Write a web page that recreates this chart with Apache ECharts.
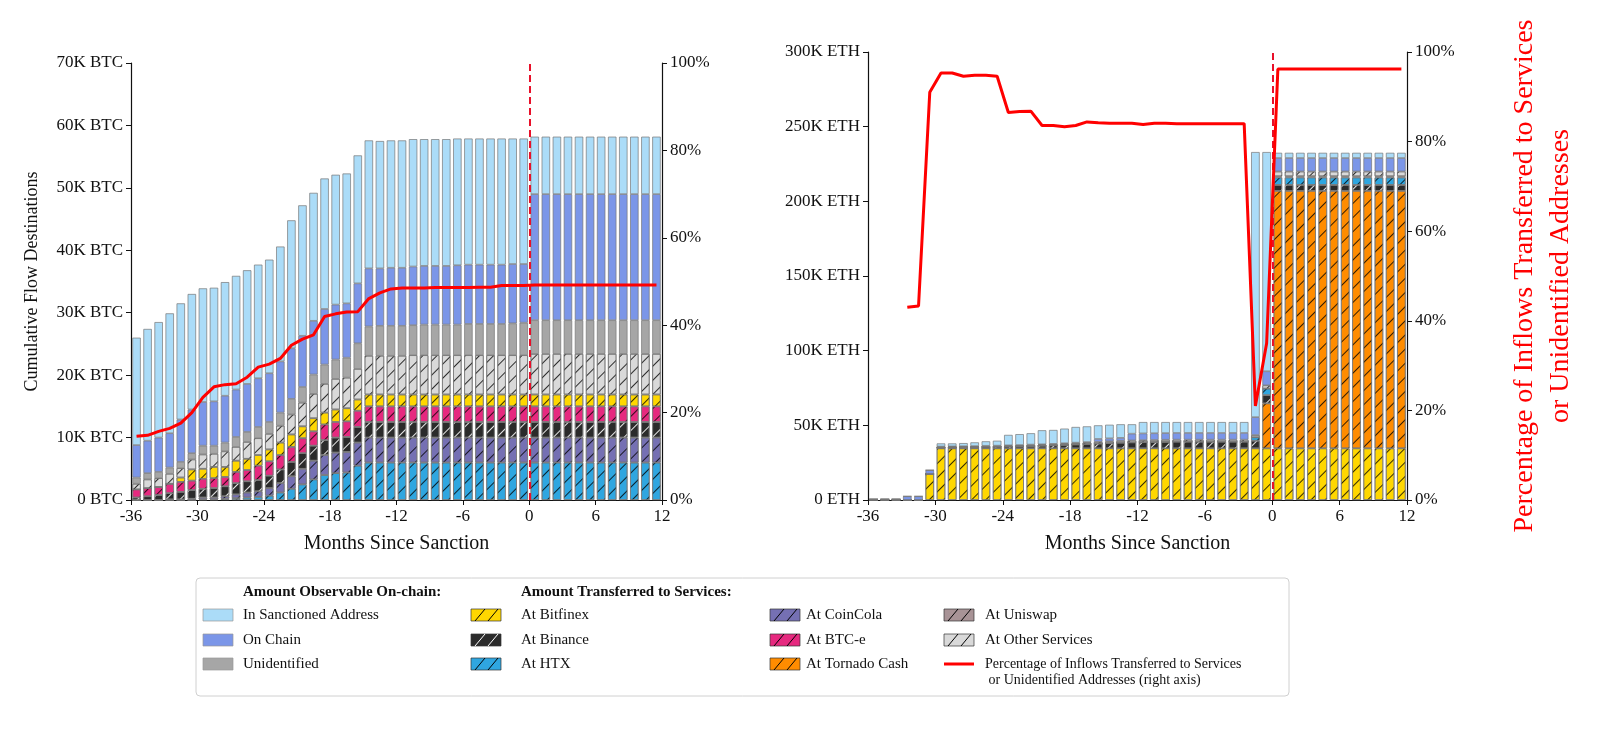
<!DOCTYPE html>
<html><head><meta charset="utf-8">
<script src="https://cdn.jsdelivr.net/npm/echarts@6/dist/echarts.min.js"></script>
<style>html,body{margin:0;padding:0;background:#fff}#c{width:1600px;height:735px}</style>
</head><body><div id="c"></div>
<script>
// ---------- DATA ----------
const months = []; for (let m = -36; m <= 11; m++) months.push(String(m));

// Left chart (BTC, thousands), months -36..11
const btcHTX = [0,0,0,0,0,0,0.1,0.1,0.2,0.3,0.4,0.5,0.7,1.2,1.8,2.5,3.3,4.0,4.3,4.4,5.5, 6,6,6,6,6,6,6,6,6,6,6,6,6,6,6, 6,6,6,6,6,6,6,6,6,6,6,6];
const btcCoinCola = [0,0,0,0.1,0.1,0.2,0.3,0.3,0.4,0.6,0.8,0.9,1.2,1.5,2.0,2.5,3.0,3.2,3.3,3.3,3.7, 4,4,4,4,4,4,4,4,4,4,4,4,4,4,4, 4,4,4,4,4,4,4,4,4,4,4,4];
const btcBinance = [0.4,0.6,0.8,1.0,1.2,1.4,1.4,1.5,1.6,1.8,1.8,1.8,2.0,2.2,2.3,2.5,2.4,2.4,2.4,2.4,2.5, 2.5,2.5,2.5,2.5,2.5,2.5,2.5,2.5,2.5,2.5,2.5,2.5,2.5,2.5,2.5, 2.5,2.5,2.5,2.5,2.5,2.5,2.5,2.5,2.5,2.5,2.5,2.5];
const btcBTCe = [1.3,1.3,1.3,1.5,1.6,1.5,1.6,1.6,1.5,1.8,1.8,2.3,2.3,2.3,2.4,2.4,2.3,2.5,2.5,2.5,2.6, 2.5,2.5,2.5,2.5,2.5,2.5,2.5,2.5,2.5,2.5,2.5,2.5,2.5,2.5,2.5, 2.5,2.5,2.5,2.5,2.5,2.5,2.5,2.5,2.5,2.5,2.5,2.5];
const btcBitfinex = [0,0,0,0,0.7,1.8,1.6,1.8,1.6,1.8,1.8,1.7,1.9,2.0,2.0,1.9,2.1,1.9,2.0,2.1,1.8, 1.9,1.9,1.9,1.9,1.9,1.9,1.9,1.9,1.9,1.9,1.9,1.9,1.9,1.9,1.9, 1.9,1.9,1.9,1.9,1.9,1.9,1.9,1.9,1.9,1.9,1.9,1.9];
const btcOther = [0.9,1.4,1.4,1.6,1.5,1.6,2.3,2.1,2.5,2.2,2.7,2.7,2.5,2.7,3.2,3.8,3.9,4.6,4.9,4.9,4.9, 6.2,6.2,6.2,6.2,6.3,6.3,6.3,6.3,6.3,6.3,6.3,6.3,6.3,6.3,6.3, 6.5,6.5,6.5,6.5,6.5,6.5,6.5,6.5,6.5,6.5,6.5,6.5];
const btcUnidentified = [1.0,1.0,1.0,1.0,1.0,1.0,1.4,1.3,1.4,1.6,1.6,1.8,1.9,2.1,2.5,2.5,3.1,3.1,3.1,3.2,4.1, 4.7,4.8,4.8,4.8,4.8,4.9,4.9,4.9,4.9,5.0,5.0,5.0,5.0,5.1,5.2, 5.4,5.4,5.4,5.4,5.4,5.4,5.4,5.4,5.4,5.4,5.4,5.4];
const btcOnChain = [5.2,5.2,5.5,5.5,6.8,7.0,7.0,7.1,7.5,7.6,7.7,7.8,7.8,8.2,8.1,8.2,8.6,8.9,8.8,8.7,9.6, 9.3,9.2,9.3,9.3,9.4,9.4,9.4,9.4,9.5,9.5,9.5,9.5,9.5,9.5,9.4, 20.2,20.2,20.2,20.2,20.2,20.2,20.2,20.2,20.2,20.2,20.2,20.2];
const btcSanctioned = [17.2,17.9,18.5,19.2,18.6,18.5,18.2,18.2,18.2,18.2,18.2,18.2,18.2,18.4,20.5,20.9,20.5,20.9,20.8,20.8,20.5, 20.5,20.4,20.4,20.4,20.4,20.3,20.3,20.3,20.3,20.2,20.2,20.2,20.2,20.1,20.1, 9.2,9.2,9.2,9.2,9.2,9.2,9.2,9.2,9.2,9.2,9.2,9.2];
const btcPct = [14.6,14.8,15.7,16.4,17.6,20.0,23.5,25.9,26.4,26.6,28.1,30.4,31.1,32.4,35.4,36.8,37.8,42.0,42.6,43.0,43.1, 46.1,47.4,48.3,48.5,48.5,48.5,48.6,48.6,48.6,48.6,48.7,48.7,49.1,49.1,49.1, 49.2,49.2,49.2,49.2,49.2,49.2,49.2,49.2,49.2,49.2,49.2,49.2];

// Right chart (ETH, thousands), months -36..11
const ethBitfinex = [0,0,0,0,0,17.5, 34.6,34.6,34.6,34.6,34.6,34.6,34.6,34.6,34.6,34.6,34.6,34.6,34.6,34.6,34.6,34.6,34.6,34.6,34.6,34.6,34.6,34.6,34.6,34.6,34.6,34.6,34.6,34.6, 34.6,34.6, 34.6,34.6,34.6,34.6,34.6,34.6,34.6,34.6,34.6,34.6,34.6,34.6];
const ethTornado = [0,0,0,0,0,0, 0,0,0,0,0,0,0,0,0,0,0,0,0,0,0,0,0,0,0,0,0,0,0,0,0,0,0,0, 0,30.1, 172.4,172.4,172.4,172.4,172.4,172.4,172.4,172.4,172.4,172.4,172.4,172.4];
const ethBinance = [0.4,0.4,0.4,0,0,0, 0.6,0.7,0.8,0.9,1.0,1.1,1.2,1.4,1.6,1.8,2.0,2.3,2.6,2.9,3.2,3.5,3.8,4.0,4.2,4.3,4.4,4.5,4.5,4.5,4.5,4.5,4.5,4.5, 5.1,5.5, 4,4,4,4,4,4,4,4,4,4,4,4];
const ethHTX = [0,0,0,0,0,0, 0,0,0,0,0,0,0,0,0,0,0,0,0,0,0,0,0,0,0,0,0,0,0,0,0,0,0,0, 2.3,4.4, 5,5,5,5,5,5,5,5,5,5,5,5];
const ethBTCe = [0,0,0,0,0,0, 0,0,0,0,0,0,0,0,0,0,0,0,0,0,0,0,0,0,0,0,0,0,0,0,0,0,0,0, 0,0, 0.8,0.8,0.8,0.8,0.8,0.8,0.8,0.8,0.8,0.8,0.8,0.8];
const ethOther = [0,0,0,0,0,0, 0.3,0.3,0.3,0.3,0.4,0.4,0.5,0.5,0.6,0.6,0.7,0.8,0.9,1.0,1.1,1.2,1.2,1.3,1.3,1.3,1.3,1.3,1.3,1.3,1.3,1.3,1.3,1.3, 1.5,2.2, 3.2,3.2,3.2,3.2,3.2,3.2,3.2,3.2,3.2,3.2,3.2,3.2];
const ethOnChain = [0,0,0,2.5,2.5,2.5, 0.3,0.3,0.3,0.3,0.3,0.3,0.3,0.3,0.3,0.3,0.3,0.3,0.3,0.3,2,2,2,4.5,4.5,4.5,4.5,4.5,4.5,4.5,4.5,4.5,4.5,4.5, 12,9.4, 9,9,9,9,9,9,9,9,9,9,9,9];
const ethSanctioned = [0,0,0,0,0,0, 2.1,2.0,2.1,2.5,3.0,3.3,7.0,7.3,7.6,9.4,9.3,9.8,10.5,10.5,9.1,9.1,9.1,6.3,7.6,7.5,7.4,7.3,7.3,7.3,7.3,7.3,7.3,7.3, 177.5,146.8, 3.5,3.5,3.5,3.5,3.5,3.5,3.5,3.5,3.5,3.5,3.5,3.5];
const ethPct = [null,null,null,43.0,43.3,91.0, 95.3,95.3,94.6,94.8,94.8,94.6,86.5,86.7,86.8,83.6,83.6,83.3,83.6,84.4,84.2,84.1,84.1,84.1,83.8,84.1,84.1,84.0,84.0,84.0,84.0,84.0,84.0,84.0, 21.0,35.0, 96.2,96.2,96.2,96.2,96.2,96.2,96.2,96.2,96.2,96.2,96.2,96.2];

const COL = {sanct:'#abdcf8', onchain:'#7b96e8', unid:'#a6a6a6', bitfinex:'#ffd700', binance:'#2b2b2b', htx:'#2fa6e0', coincola:'#7570b3', btce:'#e6297f', tornado:'#ff8c00', uniswap:'#a89396', other:'#d9d9d9'};
const FONT = 'Liberation Serif';

function hatch(c){ return {color:c, symbol:'rect', symbolSize:1, dashArrayX:[1,0], dashArrayY:[1,9], rotation:-Math.PI/4}; }
function bar(name, data, color, xi, yi, stack, h){
  return {type:'bar', name, data:data.map(v=>v*1000), xAxisIndex:xi, yAxisIndex:yi, stack, barWidth:'76%',
    itemStyle:{color, borderColor:'#777', borderWidth:0.7, decal: h ? hatch(h) : null}, animation:false, silent:true};
}
function kfmt(unit){ return v => v===0 ? '0 '+unit : (v/1000)+'K '+unit; }
const pctFmt = v => v+'%';
const tickLab = {fontFamily:FONT, fontSize:17, color:'#111'};

const series = [
  bar('HTX', btcHTX, COL.htx, 0, 0, 'L', 'rgba(0,0,0,0.8)'),
  bar('CoinCola', btcCoinCola, COL.coincola, 0, 0, 'L', 'rgba(0,0,0,0.8)'),
  bar('Binance', btcBinance, COL.binance, 0, 0, 'L', 'rgba(255,255,255,0.9)'),
  bar('BTC-e', btcBTCe, COL.btce, 0, 0, 'L', 'rgba(0,0,0,0.8)'),
  bar('Bitfinex', btcBitfinex, COL.bitfinex, 0, 0, 'L', 'rgba(0,0,0,0.8)'),
  bar('Other', btcOther, COL.other, 0, 0, 'L', 'rgba(0,0,0,0.8)'),
  bar('Unidentified', btcUnidentified, COL.unid, 0, 0, 'L', null),
  bar('On Chain', btcOnChain, COL.onchain, 0, 0, 'L', null),
  bar('Sanctioned', btcSanctioned, COL.sanct, 0, 0, 'L', null),
  {type:'line', data:btcPct, xAxisIndex:0, yAxisIndex:1, symbol:'none', lineStyle:{color:'#ff0000', width:3}, z:5, animation:false},
  {type:'line', data:[[0,0]], xAxisIndex:1, yAxisIndex:0, symbol:'none', lineStyle:{opacity:0}, animation:false,
    markLine:{symbol:'none', silent:true, label:{show:false}, lineStyle:{color:'#e8102a', type:[7,4], width:2}, data:[{xAxis:0}]}},

  bar('Bitfinex', ethBitfinex, COL.bitfinex, 2, 2, 'R', 'rgba(0,0,0,0.8)'),
  bar('Tornado', ethTornado, COL.tornado, 2, 2, 'R', 'rgba(0,0,0,0.8)'),
  bar('Binance', ethBinance, COL.binance, 2, 2, 'R', 'rgba(255,255,255,0.9)'),
  bar('HTX', ethHTX, COL.htx, 2, 2, 'R', 'rgba(0,0,0,0.8)'),
  bar('BTC-e', ethBTCe, '#f4a582', 2, 2, 'R', null),
  bar('Other', ethOther, COL.other, 2, 2, 'R', 'rgba(0,0,0,0.8)'),
  bar('On Chain', ethOnChain, COL.onchain, 2, 2, 'R', null),
  bar('Sanctioned', ethSanctioned, COL.sanct, 2, 2, 'R', null),
  {type:'line', data:ethPct, xAxisIndex:2, yAxisIndex:3, symbol:'none', lineStyle:{color:'#ff0000', width:3}, z:5, animation:false},
  {type:'line', data:[[0,0]], xAxisIndex:3, yAxisIndex:2, symbol:'none', lineStyle:{opacity:0}, animation:false,
    markLine:{symbol:'none', silent:true, label:{show:false}, lineStyle:{color:'#e8102a', type:[7,4], width:2}, data:[{xAxis:0}]}}
];

function valX(grid){ return {type:'value', gridIndex:grid, min:-36, max:12, interval:6, position:'bottom',
  axisLine:{onZero:false, lineStyle:{color:'#111', width:1.2}}, axisTick:{length:5, lineStyle:{color:'#111'}}, splitLine:{show:false},
  axisLabel:tickLab, name:'Months Since Sanction', nameLocation:'middle', nameGap:34, nameTextStyle:{fontFamily:FONT, fontSize:20, color:'#111'}}; }
function catX(grid){ return {type:'category', gridIndex:grid, data:months, show:false, boundaryGap:true}; }
const yLine = {show:true, onZero:false, lineStyle:{color:'#111', width:1.2}};

// Legend (graphic)
const legendItems = [
  {x:203, y:615, c:COL.sanct, t:'In Sanctioned Address'},
  {x:203, y:640, c:COL.onchain, t:'On Chain'},
  {x:203, y:664, c:COL.unid, t:'Unidentified'},
  {x:471, y:615, c:COL.bitfinex, t:'At Bitfinex', h:'#000'},
  {x:471, y:640, c:COL.binance, t:'At Binance', h:'#fff'},
  {x:471, y:664, c:COL.htx, t:'At HTX', h:'#000'},
  {x:770, y:615, c:COL.coincola, t:'At CoinCola', h:'#000'},
  {x:770, y:640, c:COL.btce, t:'At BTC-e', h:'#000'},
  {x:770, y:664, c:COL.tornado, t:'At Tornado Cash', h:'#000'},
  {x:944, y:615, c:COL.uniswap, t:'At Uniswap', h:'#000'},
  {x:944, y:640, c:COL.other, t:'At Other Services', h:'#000'}
];
const g = [{type:'rect', shape:{x:196, y:578, width:1093, height:118, r:4}, style:{fill:'#fff', stroke:'#d0d0d0', lineWidth:1}},
  {type:'text', x:243, y:592, style:{text:'Amount Observable On-chain:', font:'bold 15px '+FONT, fill:'#111', verticalAlign:'middle'}},
  {type:'text', x:521, y:592, style:{text:'Amount Transferred to Services:', font:'bold 15px '+FONT, fill:'#111', verticalAlign:'middle'}}];
legendItems.forEach(it=>{
  g.push({type:'rect', shape:{x:it.x, y:it.y-6, width:30, height:12}, style:{fill:it.c, stroke:it.h?'#333':'#999', lineWidth:0.7}});
  if (it.h) { g.push({type:'line', shape:{x1:it.x+4, y1:it.y+6, x2:it.x+14, y2:it.y-6}, style:{stroke:it.h, lineWidth:1}});
              g.push({type:'line', shape:{x1:it.x+17, y1:it.y+6, x2:it.x+27, y2:it.y-6}, style:{stroke:it.h, lineWidth:1}}); }
  const tx = it.x < 300 ? 243 : it.x < 600 ? 521 : it.x < 900 ? 806 : 985;
  g.push({type:'text', x:tx, y:it.y, style:{text:it.t, font:'15px '+FONT, fill:'#111', verticalAlign:'middle'}});
});
g.push({type:'line', shape:{x1:944, y1:664, x2:974, y2:664}, style:{stroke:'#ff0000', lineWidth:3}});
g.push({type:'text', x:985, y:672, style:{text:'Percentage of Inflows Transferred to Services\n or Unidentified Addresses (right axis)', font:'14px '+FONT, fill:'#111', verticalAlign:'middle', lineHeight:16}});

const chart = echarts.init(document.getElementById('c'));
chart.setOption({
  backgroundColor:'#fff', animation:false,
  grid:[{left:131, top:63, width:531, height:437}, {left:868, top:52, width:539, height:448}],
  xAxis:[catX(0), valX(0), catX(1), valX(1)],
  yAxis:[
    {type:'value', gridIndex:0, min:0, max:70000, interval:10000, axisLine:yLine, axisTick:{show:true, length:5}, splitLine:{show:false},
     axisLabel:{...tickLab, formatter:kfmt('BTC')}, name:'Cumulative Flow Destinations', nameLocation:'middle', nameGap:90, nameRotate:90, nameTextStyle:{fontFamily:FONT, fontSize:18, color:'#111'}},
    {type:'value', gridIndex:0, min:0, max:100, interval:20, position:'right', axisLine:yLine, axisTick:{show:true, length:5}, splitLine:{show:false},
     axisLabel:{...tickLab, formatter:pctFmt}},
    {type:'value', gridIndex:1, min:0, max:300000, interval:50000, axisLine:yLine, axisTick:{show:true, length:5}, splitLine:{show:false},
     axisLabel:{...tickLab, formatter:kfmt('ETH')}},
    {type:'value', gridIndex:1, min:0, max:100, interval:20, position:'right', axisLine:yLine, axisTick:{show:true, length:5}, splitLine:{show:false},
     axisLabel:{...tickLab, formatter:pctFmt}, name:'Percentage of Inflows Transferred to Services\nor Unidentified Addresses', nameLocation:'middle', nameRotate:90, nameGap:100,
     nameTextStyle:{fontFamily:FONT, fontSize:28, color:'#ff0000', lineHeight:36, align:'center'}}
  ],
  series, graphic:g
});
</script></body></html>
